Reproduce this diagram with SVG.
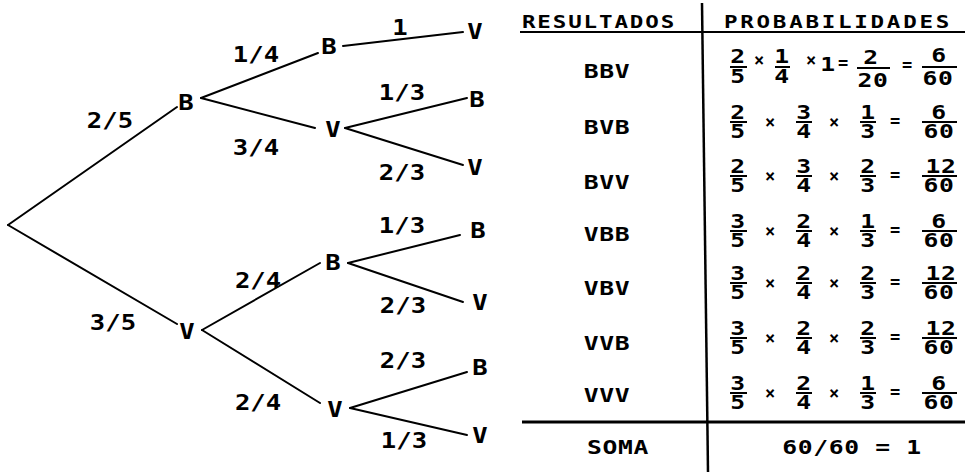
<svg xmlns="http://www.w3.org/2000/svg" width="965" height="474" viewBox="0 0 965 474">
<style>
text{font-family:"DejaVu Sans Mono","Liberation Mono",monospace;font-weight:bold;fill:#000;text-anchor:middle;transform-box:fill-box;transform-origin:center}
.tl text,.nd text{font-size:21px;transform:scaleX(1.22)}
.tb text{font-size:19px;letter-spacing:0.5px;transform:scaleX(1.3)}
.tb text.h{font-size:18px;transform:scaleX(1.25)}
.tb text.op{font-size:17px;letter-spacing:0;transform:none}
.e{stroke:#000;stroke-width:2;fill:none;stroke-linecap:round}
.bar{stroke:#000;stroke-width:2}
.rule{stroke:#000;fill:none}
</style>
<rect width="965" height="474" fill="#fff"/>

<g id="connectors">
  <line class="e" x1="8" y1="225" x2="177" y2="107"/>
  <line class="e" x1="8" y1="225" x2="177" y2="324"/>
  <line class="e" x1="201" y1="98" x2="318" y2="53"/>
  <line class="e" x1="201" y1="98" x2="315" y2="128"/>
  <line class="e" x1="343" y1="46" x2="463" y2="32"/>
  <line class="e" x1="345" y1="128" x2="467" y2="98"/>
  <line class="e" x1="345" y1="128" x2="463" y2="165"/>
  <line class="e" x1="202" y1="330" x2="320" y2="263"/>
  <line class="e" x1="202" y1="330" x2="320" y2="403"/>
  <line class="e" x1="348" y1="263" x2="460" y2="235"/>
  <line class="e" x1="348" y1="263" x2="463" y2="302"/>
  <line class="e" x1="350" y1="408" x2="467" y2="372"/>
  <line class="e" x1="350" y1="408" x2="467" y2="435"/>
  <g class="tl">
    <text x="110" y="128">2/5</text>
    <text x="113" y="330">3/5</text>
    <text x="256" y="62">1/4</text>
    <text x="256" y="155">3/4</text>
    <text x="400" y="35">1</text>
    <text x="402" y="100">1/3</text>
    <text x="402" y="180">2/3</text>
    <text x="402" y="233">1/3</text>
    <text x="403" y="313">2/3</text>
    <text x="258" y="288">2/4</text>
    <text x="258" y="410">2/4</text>
    <text x="403" y="368">2/3</text>
    <text x="404" y="448">1/3</text>
  </g>
</g>

<g id="n-B" class="nd"><text x="186" y="110">B</text></g>
<g id="n-V" class="nd"><text x="187" y="339">V</text></g>
<g id="n-BB" class="nd"><text x="329" y="54">B</text></g>
<g id="n-BV" class="nd"><text x="333" y="137">V</text></g>
<g id="n-VB" class="nd"><text x="333" y="270">B</text></g>
<g id="n-VV" class="nd"><text x="335" y="417">V</text></g>
<g id="n-BBV" class="nd"><text x="475" y="39">V</text></g>
<g id="n-BVB" class="nd"><text x="477" y="107">B</text></g>
<g id="n-BVV" class="nd"><text x="475" y="175">V</text></g>
<g id="n-VBB" class="nd"><text x="478" y="238">B</text></g>
<g id="n-VBV" class="nd"><text x="480" y="310">V</text></g>
<g id="n-VVB" class="nd"><text x="480" y="375">B</text></g>
<g id="n-VVV" class="nd"><text x="480" y="443">V</text></g>

<g id="table" class="tb">
  <line class="rule" stroke-width="2" x1="520" y1="32" x2="965" y2="32"/>
  <line class="rule" stroke-width="2.5" x1="702" y1="3" x2="708" y2="472"/>
  <line class="rule" stroke-width="3" x1="522" y1="422" x2="965" y2="422"/>
  <text class="h" x="599" y="28" style="letter-spacing:1.5px">RESULTADOS</text>
  <text class="h" x="838" y="28" style="letter-spacing:2.2px">PROBABILIDADES</text>

  <text x="607" y="78">BBV</text>
  <text x="607" y="134">BVB</text>
  <text x="607" y="189">BVV</text>
  <text x="607" y="241">VBB</text>
  <text x="607" y="295">VBV</text>
  <text x="607" y="350">VVB</text>
  <text x="607" y="402">VVV</text>
  <text x="618" y="454">SOMA</text>
  <text x="852" y="454">60/60 = 1</text>

  <g id="row1">
    <text x="738" y="63">2</text><line class="bar" x1="730" y1="67" x2="747" y2="67"/><text x="738" y="83">5</text>
    <text class="op" x="759" y="66">×</text>
    <text x="782" y="63">1</text><line class="bar" x1="775" y1="67" x2="790" y2="67"/><text x="782" y="83">4</text>
    <text class="op" x="811" y="66">×</text>
    <text x="828" y="71">1</text>
    <text class="op" x="843" y="69">=</text>
    <text x="871" y="64">2</text><line class="bar" x1="857" y1="68" x2="890" y2="68"/><text x="873" y="87">20</text>
    <text class="op" x="907" y="71">=</text>
    <text x="939" y="62">6</text><line class="bar" x1="922" y1="67" x2="957" y2="67"/><text x="938" y="85">60</text>
  </g>

  <g id="row2">
    <text x="738" y="119">2</text><line class="bar" x1="730" y1="122" x2="747" y2="122"/><text x="738" y="138">5</text>
    <text class="op" x="770" y="128">×</text>
    <text x="804" y="119">3</text><line class="bar" x1="796" y1="122" x2="812" y2="122"/><text x="804" y="138">4</text>
    <text class="op" x="834" y="128">×</text>
    <text x="868" y="119">1</text><line class="bar" x1="860" y1="122" x2="876" y2="122"/><text x="868" y="138">3</text>
    <text class="op" x="895" y="127">=</text>
    <text x="939" y="119">6</text><line class="bar" x1="922" y1="122" x2="957" y2="122"/><text x="939" y="138">60</text>
  </g>

  <g id="row3">
    <text x="738" y="173">2</text><line class="bar" x1="730" y1="176" x2="747" y2="176"/><text x="738" y="192">5</text>
    <text class="op" x="770" y="182">×</text>
    <text x="804" y="173">3</text><line class="bar" x1="796" y1="176" x2="812" y2="176"/><text x="804" y="192">4</text>
    <text class="op" x="834" y="182">×</text>
    <text x="868" y="173">2</text><line class="bar" x1="860" y1="176" x2="876" y2="176"/><text x="868" y="192">3</text>
    <text class="op" x="895" y="181">=</text>
    <text x="941" y="173">12</text><line class="bar" x1="922" y1="176" x2="957" y2="176"/><text x="939" y="192">60</text>
  </g>

  <g id="row4">
    <text x="738" y="228">3</text><line class="bar" x1="730" y1="231" x2="747" y2="231"/><text x="738" y="247">5</text>
    <text class="op" x="770" y="237">×</text>
    <text x="804" y="228">2</text><line class="bar" x1="796" y1="231" x2="812" y2="231"/><text x="804" y="247">4</text>
    <text class="op" x="834" y="237">×</text>
    <text x="868" y="228">1</text><line class="bar" x1="860" y1="231" x2="876" y2="231"/><text x="868" y="247">3</text>
    <text class="op" x="895" y="236">=</text>
    <text x="939" y="228">6</text><line class="bar" x1="922" y1="231" x2="957" y2="231"/><text x="939" y="247">60</text>
  </g>

  <g id="row5">
    <text x="738" y="280">3</text><line class="bar" x1="730" y1="283" x2="747" y2="283"/><text x="738" y="299">5</text>
    <text class="op" x="770" y="289">×</text>
    <text x="804" y="280">2</text><line class="bar" x1="796" y1="283" x2="812" y2="283"/><text x="804" y="299">4</text>
    <text class="op" x="834" y="289">×</text>
    <text x="868" y="280">2</text><line class="bar" x1="860" y1="283" x2="876" y2="283"/><text x="868" y="299">3</text>
    <text class="op" x="895" y="288">=</text>
    <text x="941" y="280">12</text><line class="bar" x1="922" y1="283" x2="957" y2="283"/><text x="939" y="299">60</text>
  </g>

  <g id="row6">
    <text x="738" y="335">3</text><line class="bar" x1="730" y1="338" x2="747" y2="338"/><text x="738" y="354">5</text>
    <text class="op" x="770" y="344">×</text>
    <text x="804" y="335">2</text><line class="bar" x1="796" y1="338" x2="812" y2="338"/><text x="804" y="354">4</text>
    <text class="op" x="834" y="344">×</text>
    <text x="868" y="335">2</text><line class="bar" x1="860" y1="338" x2="876" y2="338"/><text x="868" y="354">3</text>
    <text class="op" x="895" y="343">=</text>
    <text x="941" y="335">12</text><line class="bar" x1="922" y1="338" x2="957" y2="338"/><text x="939" y="354">60</text>
  </g>

  <g id="row7">
    <text x="738" y="390">3</text><line class="bar" x1="730" y1="393" x2="747" y2="393"/><text x="738" y="409">5</text>
    <text class="op" x="770" y="399">×</text>
    <text x="804" y="390">2</text><line class="bar" x1="796" y1="393" x2="812" y2="393"/><text x="804" y="409">4</text>
    <text class="op" x="834" y="399">×</text>
    <text x="868" y="390">1</text><line class="bar" x1="860" y1="393" x2="876" y2="393"/><text x="868" y="409">3</text>
    <text class="op" x="895" y="398">=</text>
    <text x="939" y="390">6</text><line class="bar" x1="922" y1="393" x2="957" y2="393"/><text x="939" y="409">60</text>
  </g>
</g>
</svg>
